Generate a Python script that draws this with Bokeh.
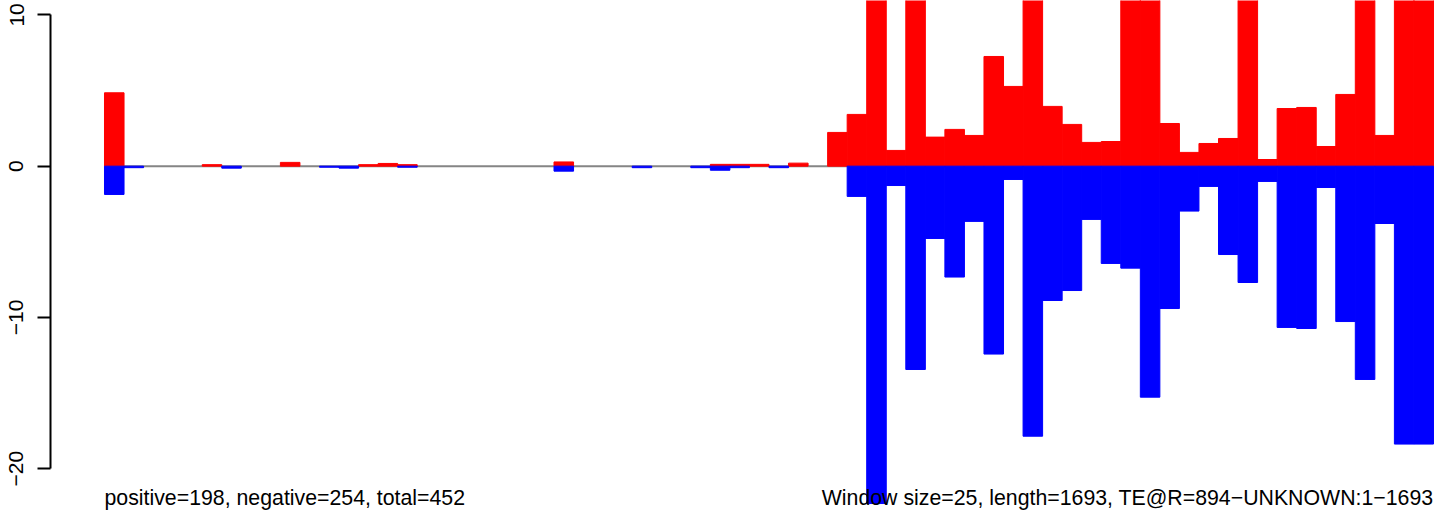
from bokeh.plotting import figure
from bokeh.models import Range1d, FixedTicker, Label, ColumnDataSource
from bokeh.embed import file_html
from bokeh.resources import INLINE

# Window counts (window size 25, sequence length 1693 -> 68 windows)
pos_values = [
    4.85, 0, 0, 0, 0, 0.10, 0, 0, 0, 0.25,
    0, 0, 0, 0.10, 0.18, 0.10, 0, 0, 0, 0,
    0, 0, 0, 0.28, 0, 0, 0, 0, 0, 0,
    0, 0.12, 0.12, 0.12, 0, 0.20, 0, 2.23, 3.42, 15.0,
    1.04, 14.0, 1.92, 2.43, 2.03, 7.25, 5.27, 16.0, 3.95, 2.76,
    1.57, 1.63, 13.0, 18.0, 2.82, 0.91, 1.50, 1.83, 12.0, 0.44,
    3.81, 3.88, 1.30, 4.74, 14.0, 2.03, 17.0, 17.0,
]
neg_values = [
    -1.87, -0.10, 0, 0, 0, 0, -0.13, 0, 0, 0,
    0, -0.07, -0.13, 0, 0, -0.07, 0, 0, 0, 0,
    0, 0, 0, -0.33, 0, 0, 0, -0.10, 0, 0,
    -0.10, -0.27, -0.10, 0, -0.10, 0, 0, 0, -2.00, -22.3,
    -1.28, -13.44, -4.78, -7.33, -3.65, -12.42, -0.88, -17.85, -8.88, -8.22,
    -3.52, -6.43, -6.74, -15.27, -9.41, -2.97, -1.34, -5.84, -7.69, -1.01,
    -10.66, -10.73, -1.41, -10.27, -14.10, -3.79, -18.37, -18.37,
]
y_ticks = [-20, -10, 0, 10]
y_tick_labels = ["\u221220", "\u221210", "0", "10"]
left_text = "positive=198, negative=254, total=452"
right_text = "Window size=25, length=1693, TE@R=894\u2212UNKNOWN:1\u22121693"

n = len(pos_values)


def bar_source(values, positive):
    left, right, bottom, top = [], [], [], []
    for i, v in enumerate(values):
        if v == 0:
            continue
        left.append(i)
        right.append(i + 1)
        if positive:
            bottom.append(0)
            top.append(v)
        else:
            bottom.append(v)
            top.append(0)
    return ColumnDataSource(dict(left=left, right=right, bottom=bottom, top=top))


FONT = "Liberation Sans"
y_start = -22.76
y_end = 10.95

p = figure(
    width=1441, height=510,
    x_range=Range1d(-2.763, 68.41),
    y_range=Range1d(y_start, y_end),
    output_backend="svg", toolbar_location=None,
    x_axis_location=None,
    min_border_left=50, min_border_right=0, min_border_top=0, min_border_bottom=0,
)
p.outline_line_color = None
p.xgrid.visible = False
p.ygrid.visible = False
p.background_fill_color = "white"
p.border_fill_color = "white"

# zero line
p.line(x=[0, n], y=[0, 0], line_color="#858585", line_width=2)

p.quad(left="left", right="right", bottom="bottom", top="top",
       source=bar_source(pos_values, True),
       fill_color="#ff0000", line_color="#ff0000", line_width=1)
p.quad(left="left", right="right", bottom="bottom", top="top",
       source=bar_source(neg_values, False),
       fill_color="#0000ff", line_color="#0000ff", line_width=1)

ax = p.yaxis[0]
ax.ticker = FixedTicker(ticks=y_ticks)
ax.bounds = (min(y_ticks), max(y_ticks))
ax.major_label_overrides = {t: s for t, s in zip(y_ticks, y_tick_labels)}
ax.major_label_orientation = "vertical"
ax.major_label_text_font = FONT
ax.major_label_text_font_size = "21px"
ax.major_label_text_color = "black"
ax.major_label_standoff = 14
ax.major_tick_out = 13
ax.major_tick_in = 0
ax.minor_tick_line_color = None
ax.axis_line_width = 2
ax.major_tick_line_width = 2
ax.axis_line_color = "black"
ax.major_tick_line_color = "black"

text_y = -21.93
p.add_layout(Label(x=0, y=text_y, text=left_text, text_align="left",
                   text_baseline="alphabetic", text_font=FONT,
                   text_font_size="21.3px", text_color="black"))
p.add_layout(Label(x=n, y=text_y, text=right_text, text_align="right",
                   text_baseline="alphabetic", text_font=FONT,
                   text_font_size="21.3px", text_color="black"))

open("out.html", "w").write(file_html(p, INLINE))
